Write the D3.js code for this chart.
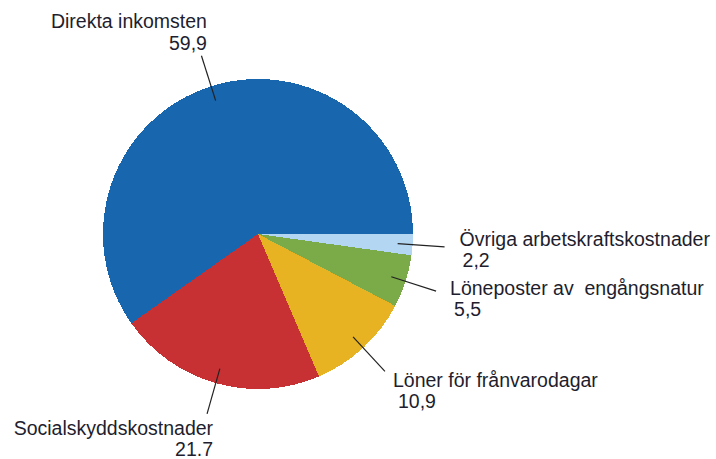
<!DOCTYPE html>
<html>
<head>
<meta charset="utf-8">
<script src="https://cdn.jsdelivr.net/npm/d3@7"></script>
<style>
  html, body { margin: 0; padding: 0; background: #fff; }
  svg { display: block; }
  text { font-family: "Liberation Sans", Arial, sans-serif; font-size: 19.5px; fill: #1e1e2e; }
</style>
</head>
<body>
<svg id="chart" width="716" height="459"></svg>
<script>
// Data (clockwise from 3 o'clock)
const categories = ["Övriga arbetskraftskostnader", "Löneposter av  engångsnatur", "Löner för frånvarodagar", "Socialskyddskostnader", "Direkta inkomsten"];
const values = [2.2, 5.5, 10.9, 21.7, 59.9];
const valueLabels = ["2,2", "5,5", "10,9", "21.7", "59,9"];

// Styling / layout
const colors = ["#b3d6f3", "#7aab48", "#e7b322", "#c83133", "#1766ae"];
const cx = 258, cy = 234, R = 155;
const rIn = 140, rOut = 187;
// label placement relative to leader end: [anchor, dx1, dy1, dx2, dy2]
const labelLayout = [
  ["start", 15, -1, 18, 20],
  ["start", 14, 4, 18, 25],
  ["start", 8, 16, 13, 37],
  ["end", 6, 21, 6, 42],
  ["end", 5.5, -28, 5.5, -6]
];

const svg = d3.select("#chart");
const g = svg.append("g").attr("transform", `translate(${cx},${cy})`);

const pie = d3.pie().sort(null).value(d => d)
  .startAngle(Math.PI / 2).endAngle(Math.PI / 2 + 2 * Math.PI);
const arcs = pie(values);
const arc = d3.arc().innerRadius(0).outerRadius(R);

g.selectAll("path.slice").data(arcs).enter().append("path")
  .attr("class", "slice")
  .attr("d", arc)
  .attr("fill", (d, i) => colors[i])
  .attr("shape-rendering", "crispEdges");

const pt = (a, r) => [Math.sin(a) * r, -Math.cos(a) * r];

arcs.forEach((d, i) => {
  const mid = (d.startAngle + d.endAngle) / 2;
  const p0 = pt(mid, rIn), p1 = pt(mid, rOut);
  g.append("line")
    .attr("x1", p0[0]).attr("y1", p0[1])
    .attr("x2", p1[0]).attr("y2", p1[1])
    .attr("stroke", "#222").attr("stroke-width", 1.2);
  const [anchor, dx1, dy1, dx2, dy2] = labelLayout[i];
  g.append("text")
    .attr("x", p1[0] + dx1).attr("y", p1[1] + dy1)
    .attr("text-anchor", anchor)
    .style("white-space", "pre")
    .text(categories[i]);
  g.append("text")
    .attr("x", p1[0] + dx2).attr("y", p1[1] + dy2)
    .attr("text-anchor", anchor)
    .text(valueLabels[i]);
});
</script>
</body>
</html>
